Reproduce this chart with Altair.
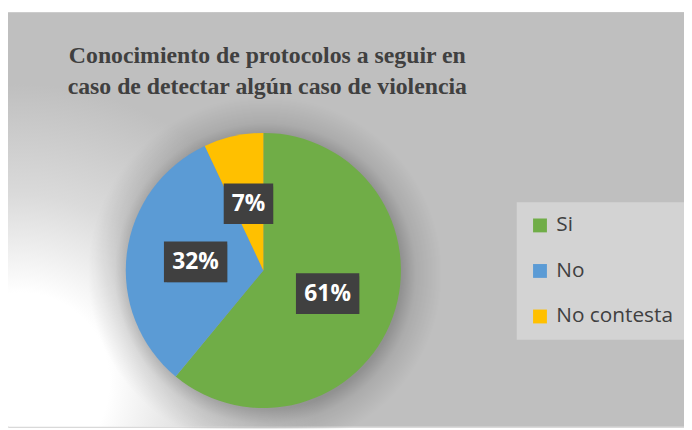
import math
import altair as alt
import pandas as pd

# ---- data ----
categories = ["Si", "No", "No contesta"]
values = [61, 32, 7]
colors = ["#70AD47", "#5B9BD5", "#FFC000"]
order = [0, 1, 2]
title_lines = ["Conocimiento de protocolos a seguir en",
               "caso de detectar algún caso de violencia"]

df = pd.DataFrame({"cat": categories, "value": values, "ord": order})

# ---- layout ----
W, H = 683, 419
CX, CY, R = 258, 261, 139
LR = 69

bg_gradient = {
    "gradient": "radial",
    "x1": 0.018, "y1": 0.74, "r1": 0,
    "x2": 0.018, "y2": 0.74, "r2": 0.44,
    "stops": [
        {"offset": 0.0, "color": "#ffffff"},
        {"offset": 0.3, "color": "#ffffff"},
        {"offset": 0.44, "color": "#efefef"},
        {"offset": 0.63, "color": "#dadada"},
        {"offset": 1.0, "color": "#bfbfbf"},
    ],
}
shadow_gradient = {
    "gradient": "radial",
    "x1": 0.5, "y1": 0.5, "r1": 0,
    "x2": 0.5, "y2": 0.5, "r2": 0.5,
    "stops": [
        {"offset": 0.0, "color": "rgba(0,0,0,0.28)"},
        {"offset": 0.77, "color": "rgba(0,0,0,0.24)"},
        {"offset": 0.85, "color": "rgba(0,0,0,0.10)"},
        {"offset": 1.0, "color": "rgba(0,0,0,0)"},
    ],
}

base = alt.Chart(df)

bg = base.transform_aggregate(total="sum(value)").mark_rect(
    fill=bg_gradient
).encode(x=alt.value(0), y=alt.value(0), x2=alt.value(W), y2=alt.value(H))

shadow = base.transform_aggregate(total="sum(value)").mark_arc(
    radius=R + 40, theta=0, theta2=2 * math.pi, fill=shadow_gradient
).encode(x=alt.value(CX + 2), y=alt.value(CY + 3))

pie = base.mark_arc(radius=R).encode(
    theta=alt.Theta("value:Q", stack=True),
    color=alt.Color(
        "cat:N",
        scale=alt.Scale(domain=categories, range=colors),
        sort=categories,
        legend=alt.Legend(
            title=None, orient="none", legendX=514, legendY=192,
            fillColor="#d3d3d3", padding=13, rowPadding=24,
            labelFont="Open Sans", labelFontSize=21, labelColor="#404040",
            symbolType="square", symbolSize=196, symbolStrokeWidth=0,
            labelOffset=6, labelLimit=300,
        ),
    ),
    order=alt.Order("ord:Q"),
    x=alt.value(CX),
    y=alt.value(CY),
)

lab = base.transform_joinaggregate(total="sum(value)").transform_window(
    cum="sum(value)", sort=[alt.SortField("ord")]
).transform_calculate(
    ang="(datum.cum - datum.value/2)/datum.total*2*PI",
    lx=f"{CX} + {LR}*sin(datum.ang)",
    ly=f"{CY} - {LR}*cos(datum.ang)",
    txt="datum.value + '%'",
).transform_calculate(
    hw="(14*length(datum.txt) + 22)/2",
).transform_calculate(
    bx1="datum.lx - datum.hw", bx2="datum.lx + datum.hw",
    by1="datum.ly - 20.5", by2="datum.ly + 20.5",
)

box_enc = dict(
    x=alt.X("bx1:Q", scale=None), x2="bx2:Q",
    y=alt.Y("by1:Q", scale=None), y2="by2:Q",
)
box_shadow = lab.mark_rect(color="black", opacity=0.3, xOffset=3, yOffset=3).encode(**box_enc)
box = lab.mark_rect(color="#404040").encode(**box_enc)
text = lab.mark_text(
    font="Open Sans", fontWeight="bold", fontSize=23, color="white"
).encode(
    x=alt.X("lx:Q", scale=None), y=alt.Y("ly:Q", scale=None), text="txt:N"
)

chart = alt.layer(bg, shadow, pie, box_shadow, box, text).properties(
    width=W, height=H,
    autosize="none",
    padding={"left": 0, "top": 2, "right": 0, "bottom": 0},
    title=alt.TitleParams(
        text=title_lines, font="Liberation Serif", fontSize=24,
        fontWeight="bold", color="#404040", anchor="middle",
        dx=CX - W / 2 + 4, offset=-88, lineHeight=32,
    ),
).configure(background="white").configure_view(stroke="#d0d0d0", strokeWidth=1)

chart.save("out.html", embed_options={"renderer": "svg", "actions": False})
